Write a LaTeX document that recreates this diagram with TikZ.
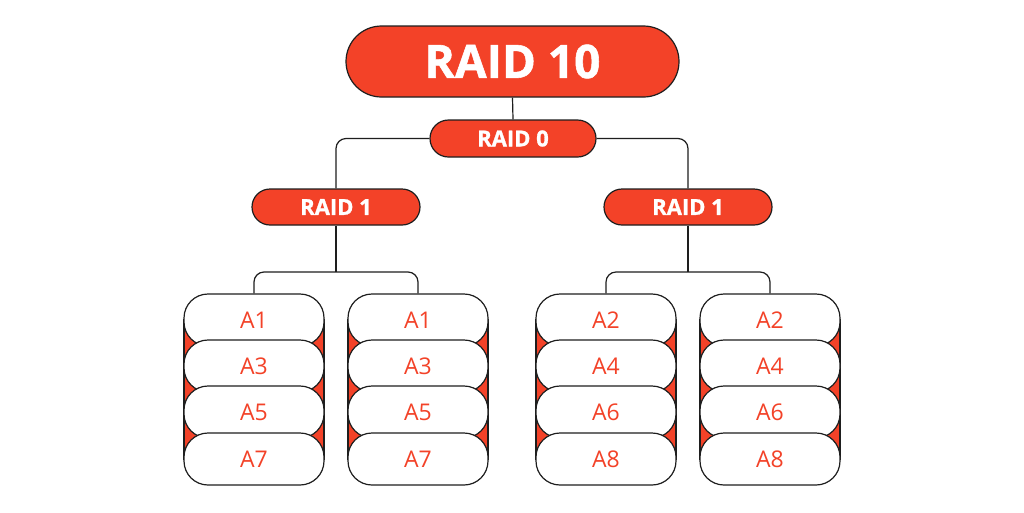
\documentclass[tikz,border=0pt]{standalone}
\usepackage{fontspec}
\setmainfont[BoldFeatures={FakeBold=1.2}]{Open Sans}
\definecolor{raidred}{RGB}{243,66,40}
\definecolor{ink}{RGB}{30,30,30}
\tikzset{
  link/.style={draw=ink, line width=1.2pt, rounded corners=10pt},
  pill/.style={rectangle, fill=raidred, draw=ink, line width=1.2pt, inner sep=0pt, text=white, font=\bfseries\fontsize{22}{22}\selectfont},
  disk/.style={rectangle, fill=white, draw=ink, line width=1.2pt, rounded corners=24pt, minimum width=140pt, minimum height=52pt, inner sep=0pt, text=raidred, font=\fontsize{23}{23}\selectfont},
  stackbg/.style={fill=raidred, draw=ink, line width=1.2pt},
}
\newcommand\diskstack[6]{%
  \draw[stackbg] ({#2-70},320) rectangle ({#2+70},459);
  \node[disk] (#1a) at (#2,320) {#3};
  \node[disk] (#1b) at (#2,366) {#4};
  \node[disk] (#1c) at (#2,412) {#5};
  \node[disk] (#1d) at (#2,459) {#6};
}
\begin{document}
\begin{tikzpicture}[x=1pt,y=-1pt]
\useasboundingbox[fill=white] (0,0) rectangle (1024,512);
% top nodes
\node[pill, rounded corners=35.5pt, minimum width=333pt, minimum height=71pt, font=\bfseries\fontsize{46}{46}\selectfont] (r10) at (512.5,61.5) {RAID 10};
\node[pill, rounded corners=18.5pt, minimum width=166pt, minimum height=37pt] (r0) at (513,138.5) {RAID 0};
\node[pill, rounded corners=18pt, minimum width=168pt, minimum height=36pt] (r1l) at (336,207) {RAID 1};
\node[pill, rounded corners=18pt, minimum width=168pt, minimum height=36pt] (r1r) at (688,207) {RAID 1};
% connectors
\draw[link] (r10.south) -- (r0.north);
\draw[link] (r0.west) -| (r1l.north);
\draw[link] (r0.east) -| (r1r.north);
% disk stacks
\diskstack{sa}{254}{A1}{A3}{A5}{A7}
\diskstack{sb}{418}{A1}{A3}{A5}{A7}
\diskstack{sc}{606}{A2}{A4}{A6}{A8}
\diskstack{sd}{770}{A2}{A4}{A6}{A8}
% brackets
\coordinate (jl) at (336,272);
\coordinate (jr) at (688,272);
\draw[link] (r1l.south) -- (jl);
\draw[link] (r1r.south) -- (jr);
\draw[link] (saa.north) |- (jl) -| (sba.north);
\draw[link] (sca.north) |- (jr) -| (sda.north);
\end{tikzpicture}
\end{document}
